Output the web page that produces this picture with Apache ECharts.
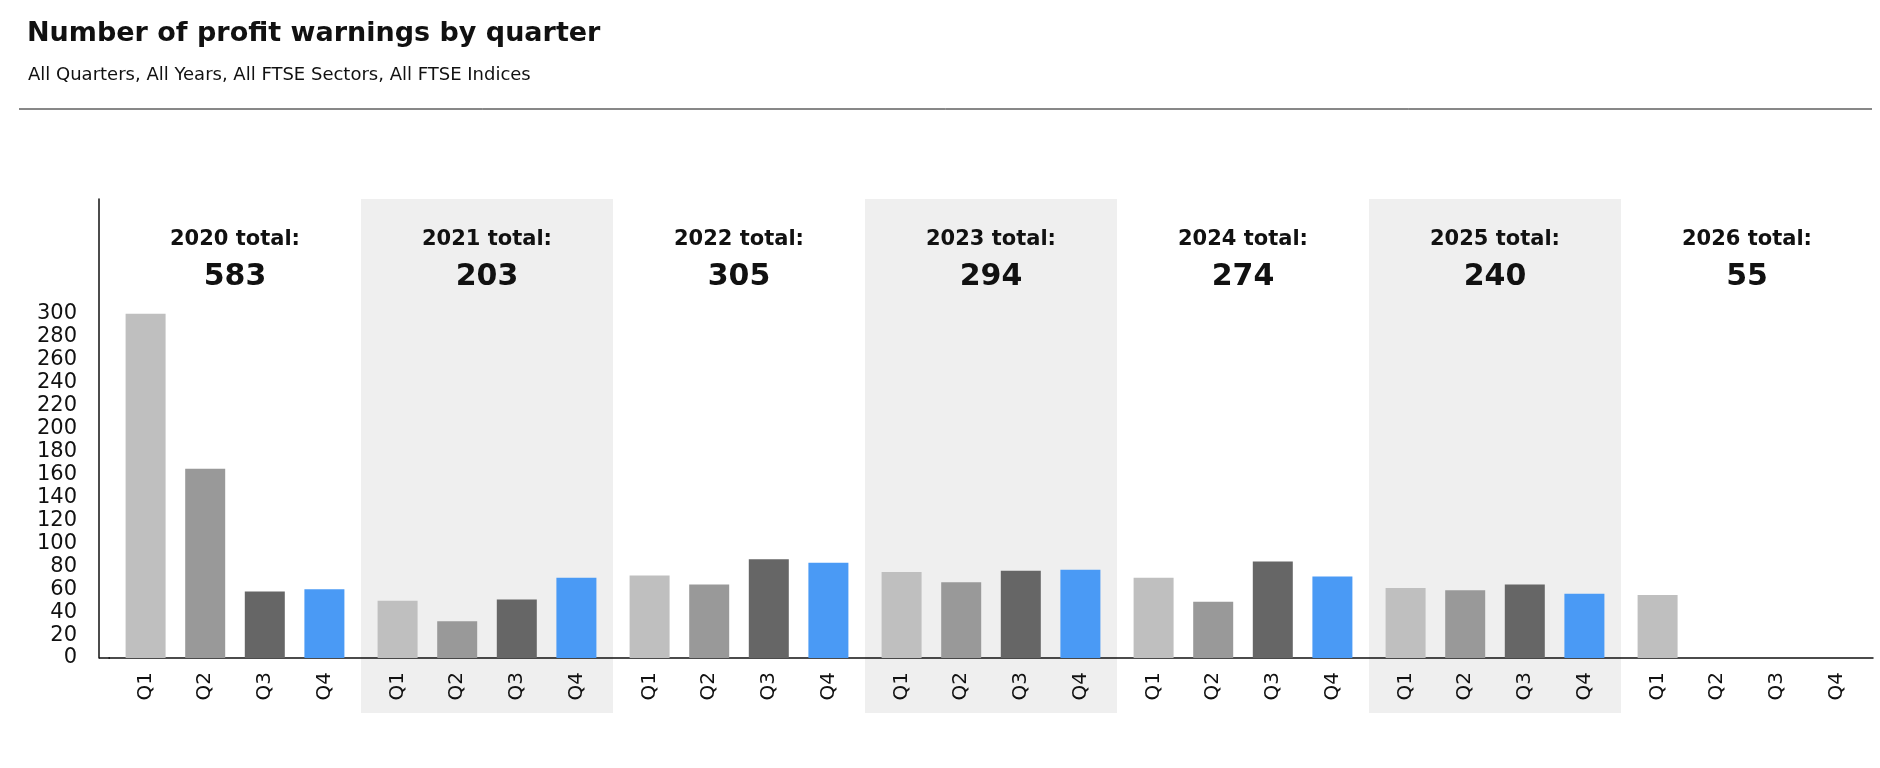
<!DOCTYPE html>
<html><head><meta charset="utf-8">
<script src="https://cdn.jsdelivr.net/npm/echarts@6/dist/echarts.min.js"></script>
<style>html,body{margin:0;padding:0;background:#fff}#c{width:1880px;height:768px}</style>
</head><body><div id="c"></div>
<script>
const years = ['2020','2021','2022','2023','2024','2025','2026'];
const totals = [583,203,305,294,274,240,55];
const q1 = [300,50,72,75,70,61,55];
const q2 = [165,32,64,66,49,59,0];
const q3 = [58,51,86,76,84,64,0];
const q4 = [60,70,83,77,71,56,0];
const quarterNames = ['Q1','Q2','Q3','Q4'];
const quarterColors = ['#bfbfbf','#999999','#666666','#4a9af5'];
const yTicksMax = 300;

const font = 'DejaVu Sans';
const chart = echarts.init(document.getElementById('c'));
const qData = [q1,q2,q3,q4];
const series = qData.map((d,i)=>({
  type:'bar', name:quarterNames[i], data:d, barWidth:40, barGap:'49%',
  itemStyle:{color:quarterColors[i]}, z:5,
  label:{show:true, position:'bottom', distance:14, rotate:90, align:'right', verticalAlign:'middle',
    formatter:quarterNames[i], fontFamily:font, fontSize:20, color:'#111'}
}));
chart.setOption({
  animation:false,
  title:[{text:'Number of profit warnings by quarter', left:22, top:15,
    textStyle:{fontFamily:font, fontSize:27, fontWeight:'bold', color:'#111'}},
    {text:'All Quarters, All Years, All FTSE Sectors, All FTSE Indices', left:23, top:61,
    textStyle:{fontFamily:font, fontSize:18, fontWeight:'normal', color:'#111'}}],
  grid:{left:109, right:7, top:199, bottom:110},
  xAxis:{type:'category', data:years, axisLabel:{show:false}, axisTick:{show:false},
    axisLine:{lineStyle:{color:'#111', width:1.5}}},
  yAxis:{type:'value', min:0, max:400, interval:20, offset:10, splitLine:{show:false},
    axisLine:{show:true, lineStyle:{color:'#111', width:1.5}}, axisTick:{show:false},
    axisLabel:{margin:22, fontFamily:font, fontSize:21, color:'#111',
      formatter:v=> v<=yTicksMax ? String(v) : ''}},
  series
});
const g = [];
g.push({type:'line', shape:{x1:19,y1:109,x2:1872,y2:109}, style:{stroke:'#111', lineWidth:1}});
const y0 = chart.convertToPixel({yAxisIndex:0}, 0);
const yTop = chart.convertToPixel({yAxisIndex:0}, 400);
g.push({type:'line', shape:{x1:99,y1:y0,x2:110,y2:y0}, style:{stroke:'#111', lineWidth:1.5}});
const x0 = chart.convertToPixel({xAxisIndex:0}, years[0]);
const x1 = chart.convertToPixel({xAxisIndex:0}, years[1]);
const w = x1 - x0;
years.forEach((yr,i)=>{
  const cx = chart.convertToPixel({xAxisIndex:0}, yr);
  if (i%2===1) g.push({type:'rect', z:-10, shape:{x:cx-w/2, y:yTop, width:w, height:713-yTop}, style:{fill:'#efefef'}});
  g.push({type:'text', z:10, x:cx, y:240, style:{text:yr+' total:', align:'center', verticalAlign:'middle', font:'bold 21px "DejaVu Sans"', fill:'#111'}});
  g.push({type:'text', z:10, x:cx, y:277, style:{text:String(totals[i]), align:'center', verticalAlign:'middle', font:'bold 30px "DejaVu Sans"', fill:'#111'}});
});
chart.setOption({graphic:g});
</script></body></html>
